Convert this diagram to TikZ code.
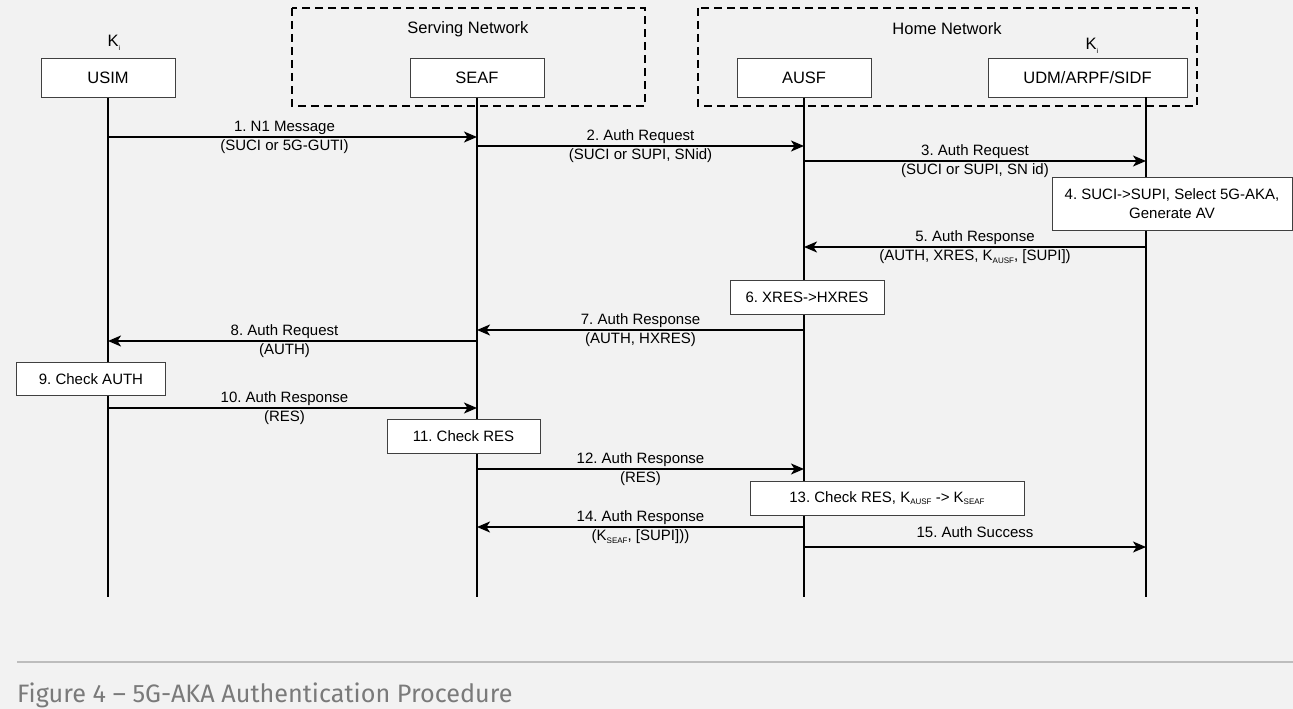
\documentclass[tikz,border=0pt]{standalone}
\usepackage{fontspec}
\setmainfont{Liberation Sans}
\newfontfamily\capfont{Fira Sans}
\usetikzlibrary{arrows.meta}
\definecolor{bgcol}{HTML}{F2F2F2}
\definecolor{capcol}{HTML}{7A7A7A}
\definecolor{rulecol}{HTML}{BDBDBD}
\frenchspacing
\newcommand{\ksub}[1]{K\raisebox{-2.5pt}{\fontsize{8}{8}\selectfont #1}}
\tikzset{
  actor/.style={draw=black!75, fill=white, line width=1pt, minimum height=38pt,
    font=\fontsize{16.5}{19}\selectfont},
  stepbox/.style={draw=black!75, fill=white, line width=1pt, minimum height=34pt,
    font=\fontsize{15}{19}\selectfont, align=center},
  netbox/.style={draw, dashed, dash pattern=on 8pt off 5pt, line width=2pt},
  life/.style={line width=1.2pt},
  msg/.style={line width=1.8pt, -{Stealth[length=13pt,width=11pt,inset=3.5pt]}},
  lbl/.style={font=\fontsize{15}{18}\selectfont, inner sep=0pt, text height=11pt, text depth=3pt},
  msgtop/.style={lbl, midway, yshift=9.5pt},
  msgbot/.style={lbl, midway, yshift=-9.5pt}
}
\begin{document}
\begin{tikzpicture}[x=1pt, y=-1pt]
  \useasboundingbox (0,0) rectangle (1293,709);
  \fill[bgcol] (0,0) rectangle (1293,709);
  \draw[netbox] (292,8) rectangle (645,106);
  \draw[netbox] (698,8) rectangle (1197,106);
  \node[font=\fontsize{16.5}{19}\selectfont] (serving) at (468,29) {Serving Network};
  \node[font=\fontsize{16.5}{19}\selectfont] (home) at (947,29) {Home Network};
  \foreach \nm/\x/\txt in {usim/108/USIM, seaf/477/SEAF, ausf/804/AUSF}
    \node[actor, minimum width=134pt] (\nm) at (\x,78) {\txt};
  \node[actor, minimum width=199pt] (udm) at (1087.5,78) {UDM/ARPF/SIDF};
  \node[font=\fontsize{16.5}{19}\selectfont] (kusim) at (114,43) {K\raisebox{-4pt}{\fontsize{7}{7}\selectfont i}};
  \node[font=\fontsize{16.5}{19}\selectfont] (kudm) at (1092,46) {K\raisebox{-4pt}{\fontsize{7}{7}\selectfont i}};
  \coordinate (lusim) at (usim.south);
  \coordinate (lseaf) at (seaf.south);
  \coordinate (lausf) at (ausf.south);
  \coordinate (ludm) at (1146,97);
  \foreach \l in {lusim,lseaf,lausf,ludm}
    \draw[life] (\l) -- (\l |- 0,597);
  \draw[msg] (lusim |- 0,137) -- (lseaf |- 0,137)
    node[msgtop, xshift=-8pt] {1. N1 Message} node[msgbot, xshift=-8pt] {(SUCI or 5G-GUTI)};
  \draw[msg] (lseaf |- 0,146) -- (lausf |- 0,146)
    node[msgtop] {2. Auth Request} node[msgbot] {(SUCI or SUPI, SNid)};
  \draw[msg] (lausf |- 0,161) -- (ludm |- 0,161)
    node[msgtop] {3. Auth Request} node[msgbot] {(SUCI or SUPI, SN id)};
  \node[stepbox, minimum width=240pt, minimum height=53pt] (s4) at (1172,204)
    {4. SUCI->SUPI, Select 5G-AKA,\\Generate AV};
  \draw[msg] (ludm |- 0,247) -- (lausf |- 0,247)
    node[msgtop] {5. Auth Response} node[msgbot] {(AUTH, XRES, \ksub{AUSF}, [SUPI])};
  \node[stepbox, minimum width=154pt] (s6) at (807,297.5) {6. XRES->HXRES};
  \draw[msg] (lausf |- 0,330) -- (lseaf |- 0,330)
    node[msgtop] {7. Auth Response} node[msgbot] {(AUTH, HXRES)};
  \draw[msg] (lseaf |- 0,341) -- (lusim |- 0,341)
    node[msgtop, xshift=-8pt] {8. Auth Request} node[msgbot, xshift=-8pt] {(AUTH)};
  \node[stepbox, minimum width=149pt, minimum height=33pt] (s9) at (91,379) {9. Check AUTH};
  \draw[msg] (lusim |- 0,408) -- (lseaf |- 0,408)
    node[msgtop, xshift=-8pt] {10. Auth Response} node[msgbot, xshift=-8pt] {(RES)};
  \node[stepbox, minimum width=153pt] (s11) at (463.5,436.5) {11. Check RES};
  \draw[msg] (lseaf |- 0,469) -- (lausf |- 0,469)
    node[msgtop] {12. Auth Response} node[msgbot] {(RES)};
  \node[stepbox, minimum width=274pt] (s13) at (887,498) {13. Check RES, \ksub{AUSF} -> \ksub{SEAF}};
  \draw[msg] (lausf |- 0,527) -- (lseaf |- 0,527)
    node[msgtop] {14. Auth Response} node[msgbot] {(\ksub{SEAF}, [SUPI]))};
  \draw[msg] (lausf |- 0,547) -- (ludm |- 0,547)
    node[msgtop, yshift=4pt] {15. Auth Success};
  \draw[rulecol, line width=2pt] (17,662) -- (1293,662);
  \node[anchor=base west, inner sep=0pt, text=capcol, font=\capfont\fontsize{25.2}{30}\selectfont] (caption)
    at (17,702) {Figure 4 – 5G-AKA Authentication Procedure};
\end{tikzpicture}
\end{document}
